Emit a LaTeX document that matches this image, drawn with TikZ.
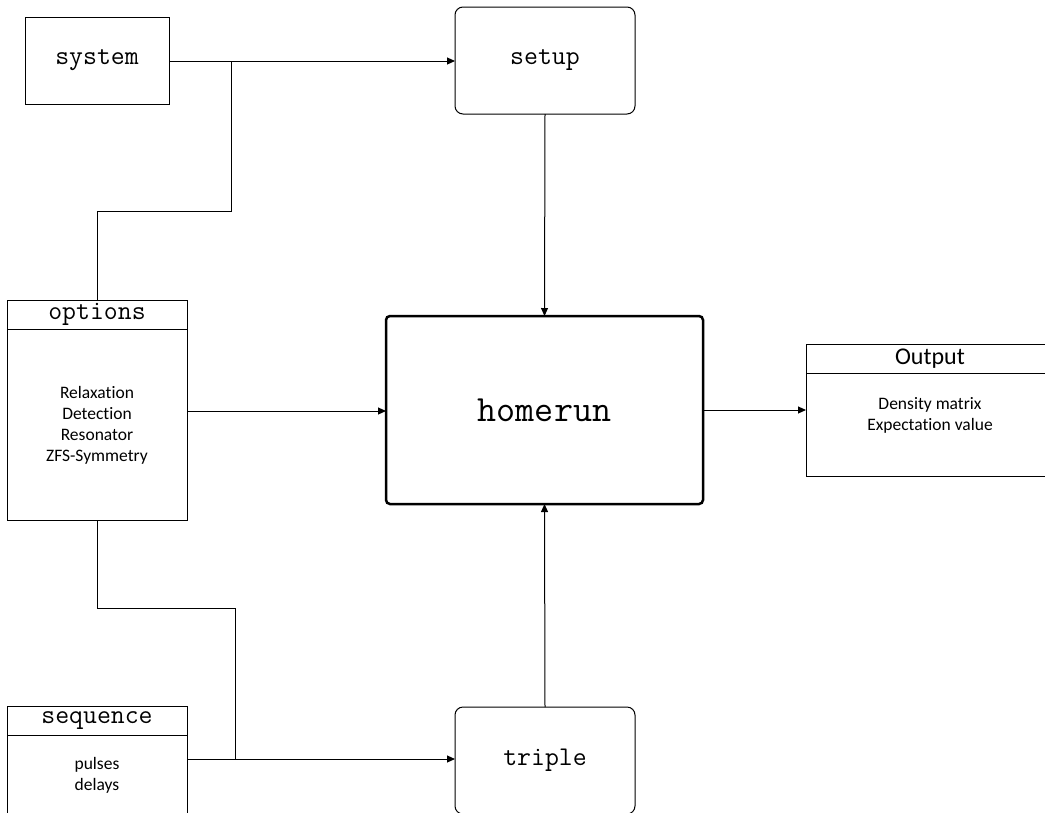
\documentclass[tikz,border=0pt]{standalone}
\usepackage{fontspec}
\setmainfont{Carlito}[Ligatures={NoCommon,NoContextual}]
\usetikzlibrary{arrows.meta}
\begin{document}
\begin{tikzpicture}[x=1pt,y=-1pt,
  every node/.style={inner sep=0pt, outer sep=0pt},
  box/.style={draw, line width=1pt, rectangle},
  rbox/.style={draw, line width=1pt, rounded corners=8pt},
  ttlabel/.style={font=\fontsize{27}{30}\selectfont\ttfamily},
  bigtt/.style={font=\fontsize{37}{40}\selectfont\ttfamily},
  bodytext/.style={font=\fontsize{17.5}{21}\selectfont, align=center},
  headtext/.style={font=\fontsize{24}{28}\selectfont},
  conn/.style={line width=1pt},
  arr/.style={conn, -{Triangle[length=8pt,width=7pt]}}
]
\useasboundingbox (0,0) rectangle (1045,812);

% boxes
\node[box, minimum width=144pt, minimum height=87pt, ttlabel] (system) at (97,60.5) {system};
\node[rbox, minimum width=180pt, minimum height=107pt, ttlabel] (setup) at (545,60.5) {setup};

\node[box, minimum width=180pt, minimum height=29pt, ttlabel] (opthead) at (97,314.5) {options};
\node[box, minimum width=180pt, minimum height=191pt] (optbody) at (97,424.5) {};
\node[bodytext] (opttext) at (97,425.5) {Relaxation\\Detection\\Resonator\\ZFS-Symmetry};

\node[draw, line width=2.5pt, rounded corners=4pt, minimum width=317pt, minimum height=188pt, bigtt] (homerun) at (544.5,410) {homerun};

\node[box, minimum width=248pt, minimum height=29pt, headtext] (outhead) at (930,358.5) {Output};
\node[box, minimum width=248pt, minimum height=103pt] (outbody) at (930,424.5) {};
\node[bodytext] (outtext) at (930,415) {Density matrix\\Expectation value};

\node[box, minimum width=180pt, minimum height=29pt, ttlabel] (seqhead) at (97,720.5) {sequence};
\node[box, minimum width=180pt, minimum height=90pt] (seqbody) at (97,780) {};
\node[bodytext] (seqtext) at (97,775.5) {pulses\\delays};

\node[rbox, minimum width=180pt, minimum height=107pt, ttlabel] (triple) at (545,760.5) {triple};

% junction coordinates
\coordinate (j1) at (231,61);
\coordinate (c1) at (231,211);
\coordinate (c2) at (97,211);
\coordinate (c3) at (97,608);
\coordinate (c4) at (235,608);
\coordinate (j2) at (235,759);

% connectors
\draw[arr] (system.east |- j1) -- (setup.west |- j1);
\draw[conn] (j1) -- (c1) -- (c2) -- (opthead.north);
\draw[arr] (setup.south) -- (homerun.north);
\draw[arr] (optbody.east |- 0,411) -- (homerun.west |- 0,411);
\draw[arr] (homerun.east) -- (outbody.west |- homerun.east);
\draw[arr] (triple.north) -- (homerun.south);
\draw[conn] (optbody.south) -- (c3) -- (c4) -- (j2);
\draw[arr] (seqbody.east |- j2) -- (triple.west |- j2);
\end{tikzpicture}
\end{document}
